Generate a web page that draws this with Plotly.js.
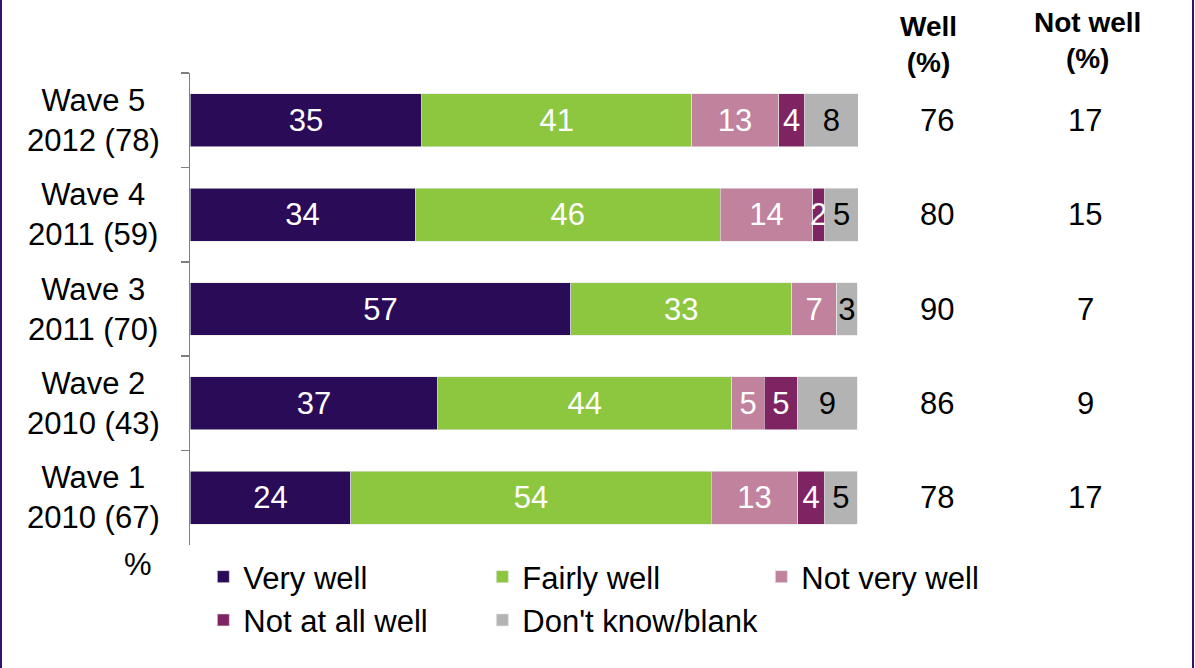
<!DOCTYPE html>
<html>
<head>
<meta charset="utf-8">
<script src="https://cdn.plot.ly/plotly-3.0.1.min.js"></script>
<style>html,body{margin:0;padding:0;background:#fff;}#chart{width:1195px;height:668px;}</style>
</head>
<body>
<div id="chart"></div>
<script>
// Categories (top to bottom)
const waves = ["Wave 5", "Wave 4", "Wave 3", "Wave 2", "Wave 1"];
const waveLabels = ["Wave 5<br>2012 (78)", "Wave 4<br>2011 (59)", "Wave 3<br>2011 (70)", "Wave 2<br>2010 (43)", "Wave 1<br>2010 (67)"];
const seriesNames = ["Very well", "Fairly well", "Not very well", "Not at all well", "Don't know/blank"];
// Bar lengths (%)
const veryWell     = [34.7, 33.7, 57.0, 37.1, 24.1];
const fairlyWell   = [40.4, 45.7, 33.1, 44.0, 53.9];
const notVeryWell  = [13.0, 13.8, 6.7, 4.9, 13.0];
const notAtAllWell = [3.9, 1.8, 0, 4.9, 4.0];
const dontKnow     = [8.0, 5.1, 3.1, 9.0, 4.9];
// Printed labels
const veryWellLbl     = ["35", "34", "57", "37", "24"];
const fairlyWellLbl   = ["41", "46", "33", "44", "54"];
const notVeryWellLbl  = ["13", "14", "7", "5", "13"];
const notAtAllWellLbl = ["4", "2", "", "5", "4"];
const dontKnowLbl     = ["8", "5", "3", "9", "5"];
// Summary columns
const wellPct    = ["76", "80", "90", "86", "78"];
const notWellPct = ["17", "15", "7", "9", "17"];

const colors = ["#290b58", "#8dc63f", "#c0829c", "#7e2463", "#b3b3b3"];
const textColors = ["#ffffff", "#ffffff", "#ffffff", "#ffffff", "#000000"];
const values = [veryWell, fairlyWell, notVeryWell, notAtAllWell, dontKnow];
const labels = [veryWellLbl, fairlyWellLbl, notVeryWellLbl, notAtAllWellLbl, dontKnowLbl];

const FONT = "Liberation Sans, Arial, sans-serif";
const FS = 31;
const W = 1195, H = 668;
const M = {l: 190, r: 337, t: 73, b: 123, autoexpand: false};
const pw = W - M.l - M.r, ph = H - M.t - M.b;
const px2x = p => (p - M.l) / pw;
const py2y = p => (H - M.b - p) / ph;

const traces = seriesNames.map((name, i) => ({
  type: "bar",
  orientation: "h",
  name: name,
  y: waves,
  x: values[i],
  text: labels[i],
  textposition: "inside",
  insidetextanchor: "middle",
  constraintext: "none",
  textfont: {family: FONT, size: FS, color: textColors[i]},
  marker: {color: colors[i], line: {color: "#e6e6e6", width: 0.6}},
  hoverinfo: "skip"
}));

const annotations = [];
waves.forEach((w, i) => {
  annotations.push({xref: "paper", yref: "y", x: px2x(93), y: w, text: waveLabels[i], showarrow: false,
    align: "center", xanchor: "center", yanchor: "middle", font: {family: FONT, size: FS, color: "#000"}});
  annotations.push({xref: "paper", yref: "y", x: px2x(937), y: w, text: wellPct[i], showarrow: false,
    xanchor: "center", yanchor: "middle", font: {family: FONT, size: FS, color: "#000"}});
  annotations.push({xref: "paper", yref: "y", x: px2x(1085), y: w, text: notWellPct[i], showarrow: false,
    xanchor: "center", yanchor: "middle", font: {family: FONT, size: FS, color: "#000"}});
});
annotations.push({xref: "paper", yref: "paper", x: px2x(928), y: py2y(45), text: "<b>Well</b><br><b>(%)</b>", showarrow: false,
  align: "center", xanchor: "center", yanchor: "middle", font: {family: FONT, size: 28, color: "#000"}});
annotations.push({xref: "paper", yref: "paper", x: px2x(1087), y: py2y(41), text: "<b>Not well</b><br><b>(%)</b>", showarrow: false,
  align: "center", xanchor: "center", yanchor: "middle", font: {family: FONT, size: 28, color: "#000"}});
annotations.push({xref: "paper", yref: "paper", x: px2x(138), y: py2y(564), text: "%", showarrow: false,
  xanchor: "center", yanchor: "middle", font: {family: FONT, size: FS, color: "#000"}});

const shapes = [
  {type: "line", xref: "paper", yref: "paper", x0: px2x(1), x1: px2x(1), y0: py2y(0), y1: py2y(H), line: {color: "#2e1470", width: 2}},
  {type: "line", xref: "paper", yref: "paper", x0: px2x(1193), x1: px2x(1193), y0: py2y(0), y1: py2y(H), line: {color: "#2e1470", width: 2}}
];

const layout = {
  width: W, height: H,
  margin: M,
  paper_bgcolor: "#ffffff",
  plot_bgcolor: "#ffffff",
  barmode: "stack",
  bargap: 0.44,
  showlegend: true,
  font: {family: FONT, size: FS, color: "#000"},
  xaxis: {range: [0, 100], visible: false, fixedrange: true},
  yaxis: {
    type: "category", categoryorder: "array", categoryarray: waves, autorange: "reversed",
    showline: true, linecolor: "#7f7f7f", linewidth: 1.5,
    ticks: "outside", tickson: "boundaries", ticklen: 8, tickcolor: "#7f7f7f", tickwidth: 1.5,
    showticklabels: false, showgrid: false, zeroline: false, fixedrange: true
  },
  legend: {
    orientation: "h", xref: "paper", yref: "paper",
    x: -0.001, y: py2y(661), xanchor: "left", yanchor: "bottom",
    traceorder: "normal", entrywidth: 234, entrywidthmode: "pixels",
    borderwidth: 14, bordercolor: "rgba(0,0,0,0)",
    font: {family: FONT, size: FS, color: "#000"}, bgcolor: "rgba(0,0,0,0)"
  },
  annotations: annotations,
  shapes: shapes
};

Plotly.newPlot("chart", traces, layout, {displayModeBar: false, staticPlot: true});
</script>
</body>
</html>
